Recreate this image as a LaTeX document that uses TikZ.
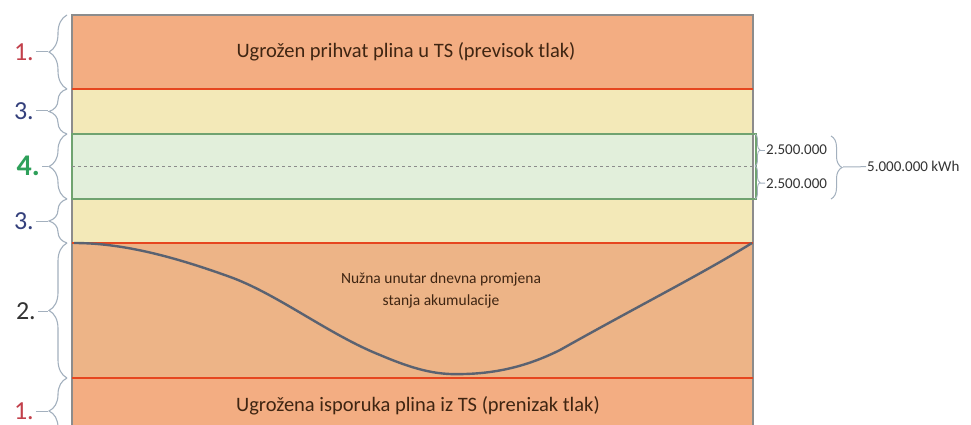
\documentclass[tikz,border=0pt]{standalone}
\usepackage{fontspec}
\setmainfont{Carlito}
\usepackage{xcolor}
\usetikzlibrary{decorations.pathreplacing}
\definecolor{bandone}{HTML}{F3AD82}
\definecolor{bandtwo}{HTML}{EDB487}
\definecolor{bandthree}{HTML}{F3E9B8}
\definecolor{bandfour}{HTML}{E2EFDB}
\definecolor{redline}{HTML}{E6461F}
\definecolor{boxgray}{HTML}{8C8C8C}
\definecolor{bracegray}{HTML}{A3B0BE}
\definecolor{curvegray}{HTML}{5A6271}
\definecolor{textbrown}{HTML}{3F2512}
\definecolor{labred}{HTML}{C2404B}
\definecolor{labblue}{HTML}{34407C}
\definecolor{labgreen}{HTML}{2EA05A}
\definecolor{labdark}{HTML}{333333}
\tikzset{
  leftbrace/.style={decorate, decoration={brace, amplitude=18pt}, draw=bracegray, line width=1.1pt},
  smallbrace/.style={decorate, decoration={brace, amplitude=5pt}, draw=bracegray, line width=0.9pt},
  bigbrace/.style={decorate, decoration={brace, amplitude=11pt}, draw=bracegray, line width=1pt},
  tick/.style={draw=bracegray, line width=1pt},
  bandlabel/.style={inner sep=2pt, anchor=east, font=\fontsize{26}{26}\selectfont},
  bandtext/.style={text=textbrown, font=\fontsize{20.5}{24}\selectfont},
  smalltext/.style={text=textbrown, font=\fontsize{15.5}{22}\selectfont, align=center},
  sidetext/.style={text=labdark, anchor=west, inner sep=1pt, font=\fontsize{15}{15}\selectfont},
  redband/.style={draw=redline, line width=2.6pt},
}
\begin{document}
\begin{tikzpicture}[x=1pt,y=-1pt]
\clip (0,0) rectangle (971,425);
\fill[white] (0,0) rectangle (971,425);
% bands
\fill[bandone] (72,15) rectangle (753,89);
\fill[bandthree] (72,89) rectangle (753,134);
\fill[bandfour] (72,134) rectangle (753,199);
\fill[bandthree] (72,199) rectangle (753,243);
\fill[bandtwo] (72,243) rectangle (753,378);
\fill[bandone] (72,378) rectangle (753,425);
\draw[boxgray, line width=1.2pt] (72,425) -- (72,15) -- (753,15) -- (753,425);
\draw[boxgray!80!green, line width=1.2pt] (72,134) rectangle (756,199);
\draw[boxgray, dashed, line width=0.8pt] (72,166) -- (753,166);
\foreach \y in {89,243,378}
  \draw[redband] (72,\y) -- (753,\y);
% curve
\draw[curvegray, line width=2.4pt] (74,243) .. controls (120,243) and (170,255) .. (233,278)
  .. controls (280,296) and (330,335) .. (380,355)
  .. controls (420,372) and (440,375) .. (465,374)
  .. controls (500,373) and (530,365) .. (560,350)
  .. controls (640,305) and (700,275) .. (752,243);
% texts
\node[bandtext] (top) at (406,52) {Ugrožen prihvat plina u TS (previsok tlak)};
\node[bandtext] (bottom) at (418,406) {Ugrožena isporuka plina iz TS (prenizak tlak)};
\node[smalltext] (mid) at (441,290) {Nužna unutar dnevna promjena\\stanja akumulacije};
% left braces
\foreach \a/\b/\m/\nm in {15/89/52/la, 89/134/111/lb, 134/199/166/lc, 199/243/221/ld, 243/378/311/le, 378/444/411/lf}
{
  \draw[leftbrace] (67,\b) -- (67,\a);
  \coordinate (t\nm) at (48,\m);
}
\node[bandlabel, text=labred] (la) at (36,52) {1.};
\node[bandlabel, text=labblue] (lb) at (36,111) {3.};
\node[bandlabel, text=labgreen, font=\fontsize{30}{30}\selectfont\bfseries] (lc) at (42,166) {4.};
\node[bandlabel, text=labblue] (ld) at (36,221) {3.};
\node[bandlabel, text=labdark] (le) at (38,311) {2.};
\node[bandlabel, text=labred] (lf) at (36,411) {1.};
\foreach \nm in {la,lb,lc,ld,le,lf}
  \draw[tick] (\nm) -- (t\nm);
% right braces
\draw[smallbrace] (755,134) -- (755,166);
\draw[smallbrace] (755,166) -- (755,199);
\coordinate (ra) at (760,150);
\coordinate (rb) at (760,183);
\node[sidetext] (va) at (765,150) {2.500.000};
\node[sidetext] (vb) at (765,184) {2.500.000};
\draw[tick] (ra) -- (va);
\draw[tick] (rb) -- (vb);
\draw[bigbrace] (831,136) -- (831,199);
\coordinate (rc) at (843,167);
\node[sidetext] (total) at (866,166) {5.000.000 kWh};
\draw[tick] (rc) -- (total);
\end{tikzpicture}
\end{document}
